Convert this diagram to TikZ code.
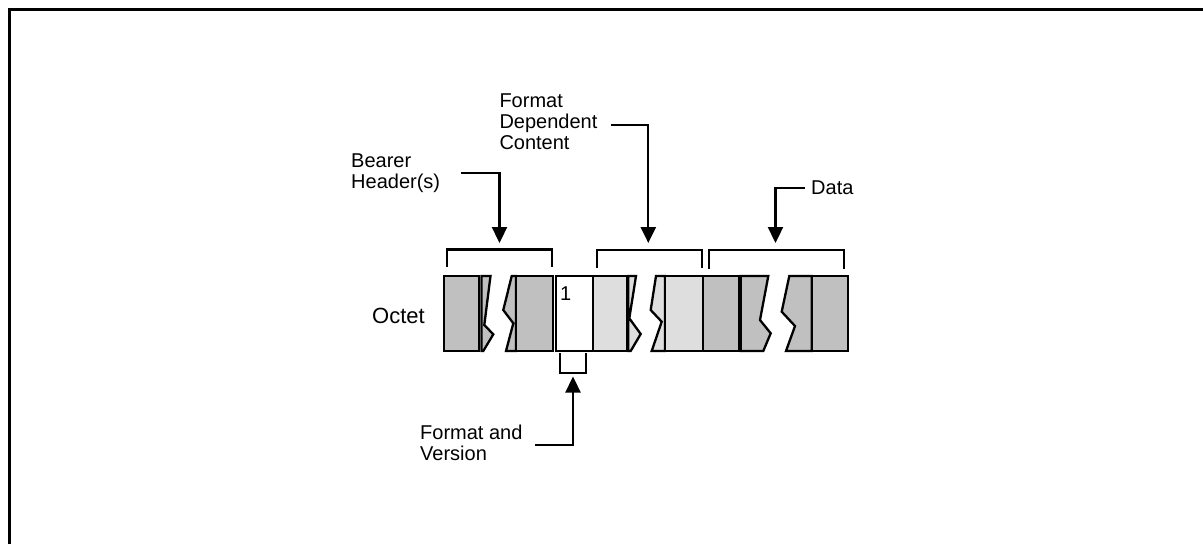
\documentclass[tikz,border=0pt]{standalone}
\usepackage{fontspec}
\setmainfont{Liberation Sans}
\usetikzlibrary{arrows.meta}
\definecolor{darkfill}{RGB}{192,192,192}
\definecolor{lightfill}{RGB}{222,222,222}
\begin{document}
\begin{tikzpicture}[x=1pt,y=-1pt, line join=miter,
  outline/.style={draw=black, line width=2.3pt},
  dk/.style={outline, fill=darkfill},
  lt/.style={outline, fill=lightfill},
  wt/.style={outline, fill=white},
  bracket/.style={draw=black, line width=2.3pt},
  arr/.style={draw=black, line width=2.3pt, -{Triangle[width=15pt,length=16pt]}},
  lbl/.style={font=\fontsize{20}{21}\selectfont, align=left, inner sep=0pt, anchor=north west}
]
\useasboundingbox (0,0) rectangle (1203,544);
% frame
\draw[line width=2.6pt] (9.3,544) -- (9.3,9.5) -- (1203,9.5);

% ---- bearer header octets
\path[dk] (444,276) rectangle (479.3,351);
\path[dk] (481.5,276) -- (490.5,276) -- (484.3,325) -- (493.3,334.3) -- (483.3,351) -- (481.5,351) -- cycle;
\path[dk] (511.7,276) -- (516,276) -- (516,351) -- (506,351) -- (513.3,323.3) -- (503.3,310) -- cycle;
\path[dk] (516,276) rectangle (553.3,351);
% ---- format and version
\path[wt] (556,276) rectangle (593.3,351);
\node[font=\fontsize{20}{21}\selectfont, inner sep=0pt, anchor=base west] (one) at (560,300) {1};
% ---- format dependent content
\path[lt] (593.3,276) rectangle (626.7,351);
\path[lt] (628.3,276) -- (636,276) -- (629.3,318.3) -- (640.7,334) -- (630.7,351) -- (628.3,351) -- cycle;
\path[lt] (656,276) -- (665,276) -- (665,351) -- (651.7,351) -- (661.7,321.7) -- (650.7,310) -- cycle;
\path[lt] (665,276) rectangle (702.7,351);
% ---- data
\path[dk] (703.3,276) rectangle (739.3,351);
\path[dk] (740.7,276) -- (768.3,276) -- (760,320) -- (770.7,333.3) -- (763.3,351) -- (740.7,351) -- cycle;
\path[dk] (789.3,276) -- (811.7,276) -- (811.7,351) -- (786,351) -- (795,326) -- (781.7,311.7) -- cycle;
\path[dk] (811.7,276) rectangle (848.3,351);

% ---- brackets
\draw[bracket] (447.3,267) -- (447.3,249.5) -- (551.7,249.5) -- (551.7,267);
\draw[bracket] (596.7,268) -- (596.7,250) -- (701.7,250) -- (701.7,268);
\draw[bracket] (708.7,269) -- (708.7,250) -- (843.7,250) -- (843.7,269);
\draw[bracket] (560,353) -- (560,373.3) -- (586,373.3) -- (586,353);

% ---- labels
\node[font=\fontsize{22}{24}\selectfont, inner sep=0pt, anchor=base east] (octet) at (425,323) {Octet};
\node[lbl] (bearer) at (351,153.7) {Bearer\\Header(s)};
\node[lbl] (fdc) at (499.3,94) {Format\\Dependent\\Content};
\node[lbl] (data) at (811,181) {Data};
\node[lbl] (fv) at (420,425) {Format and\\Version};

% ---- connectors
\coordinate (bearerS) at (461,173.3);
\coordinate (bearerT) at (499.5,243);
\coordinate (fdcS) at (610.7,125);
\coordinate (fdcT) at (648.3,243);
\coordinate (dataS) at (805,188);
\coordinate (dataT) at (775.5,243);
\coordinate (fvS) at (535,445);
\coordinate (fvT) at (573,376.5);
\draw[arr] (bearerS) -| (bearerT);
\draw[arr] (fdcS) -| (fdcT);
\draw[arr] (dataS) -| (dataT);
\draw[arr] (fvS) -| (fvT);
\end{tikzpicture}
\end{document}
